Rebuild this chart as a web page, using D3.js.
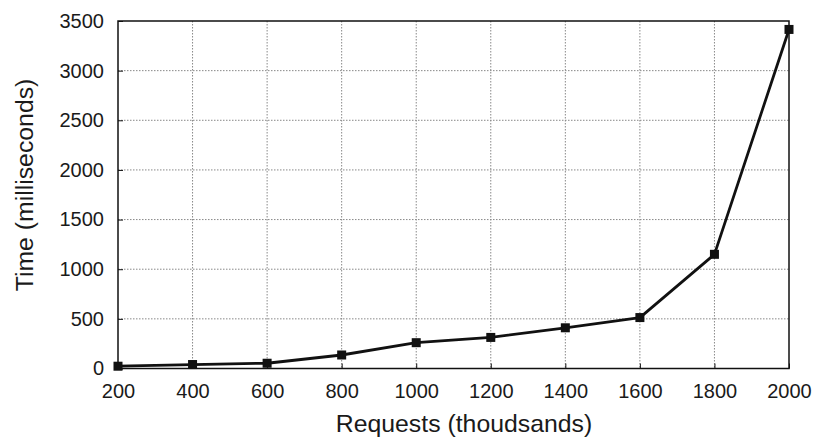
<!DOCTYPE html>
<html>
<head>
<meta charset="utf-8">
<script src="https://cdn.jsdelivr.net/npm/d3@7"></script>
<style>
  html, body { margin: 0; padding: 0; background: #fff; }
  svg { display: block; font-family: "Liberation Sans", Arial, Helvetica, sans-serif; }
</style>
</head>
<body>
<svg id="chart" width="815" height="438"></svg>
<script>
// Response time versus request volume
const requests = [200, 400, 600, 800, 1000, 1200, 1400, 1600, 1800, 2000];
const timeMs   = [23, 40, 53, 136, 260, 313, 410, 513, 1150, 3415];
const xTicks = [200, 400, 600, 800, 1000, 1200, 1400, 1600, 1800, 2000];
const yTicks = [0, 500, 1000, 1500, 2000, 2500, 3000, 3500];

const svg = d3.select("#chart");
const plot = { left: 118, right: 789, top: 21, bottom: 368.5 };

const x = d3.scaleLinear().domain([200, 2000]).range([plot.left, plot.right]);
const y = d3.scaleLinear().domain([0, 3500]).range([plot.bottom, plot.top]);

// dotted grid
const grid = svg.append("g");
grid.selectAll("line.v").data(xTicks.slice(1, -1)).join("line")
  .attr("x1", d => x(d)).attr("x2", d => x(d))
  .attr("y1", plot.top).attr("y2", plot.bottom)
  .attr("stroke", "#888").attr("stroke-width", 1).attr("stroke-dasharray", "1.5,1.5");
grid.selectAll("line.h").data(yTicks.slice(1, -1)).join("line")
  .attr("x1", plot.left).attr("x2", plot.right)
  .attr("y1", d => y(d)).attr("y2", d => y(d))
  .attr("stroke", "#888").attr("stroke-width", 1).attr("stroke-dasharray", "1.5,1.5");

// axes with inward ticks
const fmt = d3.format("d");
const xAxis = svg.append("g").attr("transform", `translate(0,${plot.bottom})`)
  .call(d3.axisBottom(x).tickValues(xTicks).tickFormat(fmt)
    .tickSizeInner(-5).tickSizeOuter(0).tickPadding(15));
const yAxis = svg.append("g").attr("transform", `translate(${plot.left},0)`)
  .call(d3.axisLeft(y).tickValues(yTicks).tickFormat(fmt)
    .tickSizeInner(-5).tickSizeOuter(0).tickPadding(14));
[xAxis, yAxis].forEach(a => {
  a.select(".domain").remove();
  a.selectAll(".tick line").attr("stroke", "#111");
  a.selectAll(".tick text").attr("font-size", 20).attr("fill", "#1a1a1a")
    .attr("font-family", "'Liberation Sans', Arial, sans-serif");
});

// frame
svg.append("rect").attr("x", plot.left).attr("y", plot.top)
  .attr("width", plot.right - plot.left).attr("height", plot.bottom - plot.top)
  .attr("fill", "none").attr("stroke", "#111").attr("stroke-width", 1.5);

// series
const pts = requests.map((r, i) => [r, timeMs[i]]);
svg.append("path").datum(pts)
  .attr("fill", "none").attr("stroke", "#111").attr("stroke-width", 2.8)
  .attr("stroke-linejoin", "round")
  .attr("d", d3.line().x(d => x(d[0])).y(d => y(d[1])));
svg.append("g").selectAll("rect").data(pts).join("rect")
  .attr("x", d => x(d[0]) - 4.5).attr("y", d => y(d[1]) - 4.5)
  .attr("width", 9).attr("height", 9).attr("fill", "#111");

// axis titles
svg.append("text").attr("x", 464).attr("y", 432)
  .attr("text-anchor", "middle").attr("font-size", 24.8).attr("fill", "#1a1a1a")
  .text("Requests (thoudsands)");
svg.append("text")
  .attr("transform", "translate(32.5,185) rotate(-90)")
  .attr("text-anchor", "middle").attr("font-size", 24.8).attr("fill", "#1a1a1a")
  .text("Time (milliseconds)");
</script>
</body>
</html>
